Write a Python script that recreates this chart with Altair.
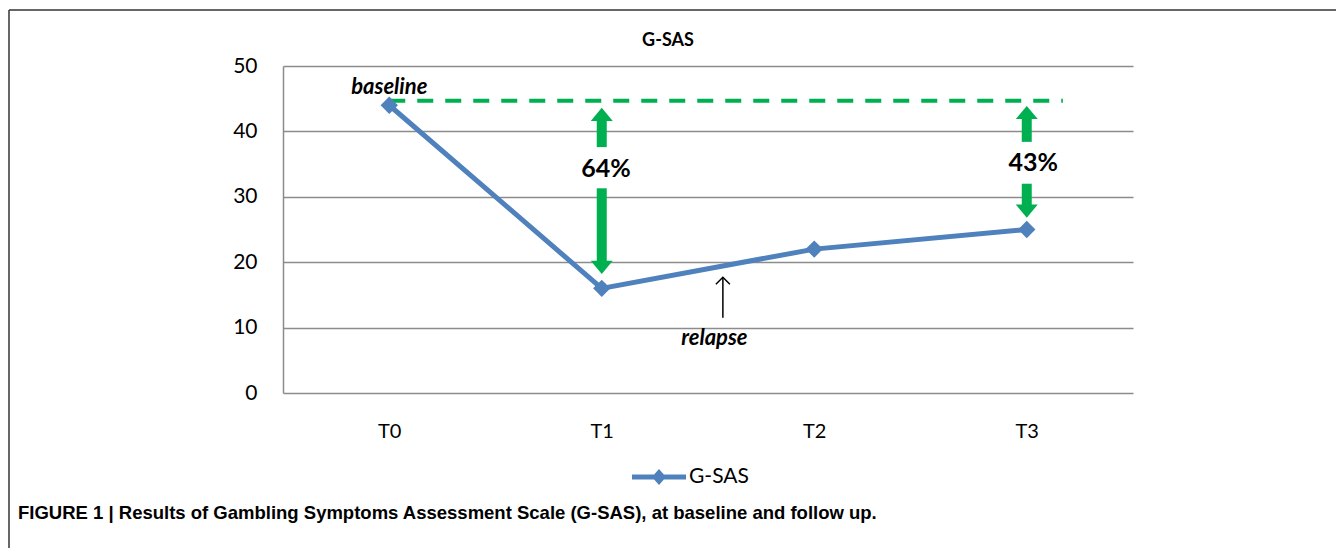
import altair as alt
import pandas as pd

# ---- data ----
times = ["T0", "T1", "T2", "T3"]
gsas = [44, 16, 22, 25]
series_name = "G-SAS"

baseline_value = 44.7
baseline_start = 0.0
baseline_end = 3.17

arrow_x = [1, 1, 3, 3]
arrow_tip = [43.6, 18.2, 43.9, 26.8]
arrow_tail = [37.6, 31.3, 38.4, 32.0]
arrow_dir = ["up", "down", "up", "down"]

pct_labels = ["64%", "43%"]
pct_x = [1.02, 3.03]
pct_y = [34.3, 35.2]

note_text = ["baseline", "relapse"]
note_x = [0.0, 1.53]
note_y = [46.8, 8.4]

relapse_x = [1.57]
relapse_tip = [17.7]
relapse_tail = [11.5]

caption = "FIGURE 1 | Results of Gambling Symptoms Assessment Scale (G-SAS), at baseline and follow up."

BLUE = "#4F81BD"
GREEN = "#00B050"
FONT = "Lato"

df = pd.DataFrame({"idx": list(range(len(times))), "time": times, "value": gsas, "series": series_name})
arrows = pd.DataFrame({"x": arrow_x, "tip": arrow_tip, "tail": arrow_tail, "dir": arrow_dir})
arrows["sign"] = arrows["dir"].map({"up": 1, "down": -1})
pct = pd.DataFrame({"x": pct_x, "y": pct_y, "t": pct_labels})
notes = pd.DataFrame({"x": note_x, "y": note_y, "t": note_text})
relapse = pd.DataFrame({"x": relapse_x, "tip": relapse_tip, "tail": relapse_tail})
base = pd.DataFrame({"x": [baseline_start], "x2": [baseline_end], "y": [baseline_value]})
one = pd.DataFrame({"t": [caption], "title": [series_name]})

label_expr = "[" + ",".join("'%s'" % t for t in times) + "][datum.value]"
xscale = alt.Scale(domain=[-0.5, len(times) - 0.5], nice=False, zero=False)
yscale = alt.Scale(domain=[0, 50], nice=False)

X = alt.X("idx:Q", scale=xscale, title=None,
          axis=alt.Axis(values=list(range(len(times))), labelExpr=label_expr, grid=False,
                        domain=False, ticks=False, tickSize=0, labelFontSize=20, labelFont=FONT,
                        labelColor="#000", labelPadding=28, labelFlush=False))
Y = alt.Y("value:Q", scale=yscale, title=None,
          axis=alt.Axis(values=[0, 10, 20, 30, 40, 50], grid=True, gridColor="#8c8c8c", gridWidth=1.5,
                        domain=True, domainColor="#8c8c8c", domainWidth=1.5, ticks=False, tickSize=0,
                        labelFontSize=21, labelFont=FONT, labelColor="#000", labelPadding=26))

line = alt.Chart(df).mark_line(color=BLUE, strokeWidth=5).encode(x=X, y=Y)

legend_symbol = ("M-1,-0.093L-0.18,-0.093L0,-0.3L0.18,-0.093L1,-0.093L1,0.093"
                 "L0.18,0.093L0,0.3L-0.18,0.093L-1,0.093Z")
points = alt.Chart(df).mark_point(shape="diamond", filled=True, size=300, opacity=1).encode(
    x="idx:Q", y="value:Q",
    color=alt.Color("series:N", scale=alt.Scale(domain=[series_name], range=[BLUE]), title=None,
                    legend=alt.Legend(orient="none", legendX=349, legendY=384, symbolType=legend_symbol,
                                      symbolSize=2916, symbolFillColor=BLUE, symbolStrokeWidth=0,
                                      labelFont=FONT, labelFontSize=21, labelColor="#000",
                                      labelOffset=3, padding=0, title=None)),
)

dash = alt.Chart(base).mark_rule(color=GREEN, strokeWidth=4, strokeDash=[16, 12]).encode(
    x="x:Q", x2="x2:Q", y="y:Q")

shafts = alt.Chart(arrows).transform_calculate(base="datum.tip - datum.sign*1.9").mark_rule(
    color=GREEN, strokeWidth=10, strokeCap="butt").encode(x="x:Q", y="base:Q", y2="tail:Q")

up_head = "M0,0L1,1.2L-1,1.2Z"
down_head = "M0,0L1,-1.2L-1,-1.2Z"
heads_up = alt.Chart(arrows).transform_filter("datum.dir == 'up'").mark_point(
    shape=up_head, filled=True, size=484, color=GREEN, opacity=1, strokeWidth=0).encode(x="x:Q", y="tip:Q")
heads_down = alt.Chart(arrows).transform_filter("datum.dir == 'down'").mark_point(
    shape=down_head, filled=True, size=484, color=GREEN, opacity=1, strokeWidth=0).encode(x="x:Q", y="tip:Q")

pct_text = alt.Chart(pct).mark_text(font=FONT, fontSize=25, fontWeight="bold", color="#000").encode(
    x="x:Q", y="y:Q", text="t:N")
note_txt = alt.Chart(notes).mark_text(font=FONT, fontSize=22, fontWeight="bold", fontStyle="italic",
                                      color="#000").encode(x="x:Q", y="y:Q", text="t:N")

rel_shaft = alt.Chart(relapse).mark_rule(color="#000", strokeWidth=1.5).encode(x="x:Q", y="tip:Q", y2="tail:Q")
rel_head = alt.Chart(relapse).mark_point(shape="M-1,1L0,0L1,1", size=196, filled=False, color="#000",
                                         strokeWidth=1.5, opacity=1).encode(x="x:Q", y="tip:Q")

frame_top = alt.Chart(one).mark_rule(color="#333", strokeWidth=1.5).encode(
    x=alt.value(-274), x2=alt.value(1053), y=alt.value(-56))
frame_left = alt.Chart(one).mark_rule(color="#333", strokeWidth=1.5).encode(
    x=alt.value(-274), y=alt.value(-56), y2=alt.value(482))
title_txt = alt.Chart(one).mark_text(align="center", baseline="middle", font=FONT, fontSize=18,
                                     fontWeight="bold", color="#000").encode(
    x=alt.value(385), y=alt.value(-25), text="title:N")
cap = alt.Chart(one).mark_text(align="left", baseline="middle", font="Liberation Sans",
                               fontSize=18.5, fontWeight="bold", color="#000").encode(
    x=alt.value(-265), y=alt.value(447), text="t:N")

chart = alt.layer(frame_top, frame_left, line, dash, shafts, heads_up, heads_down, points,
                  pct_text, note_txt, rel_shaft, rel_head, title_txt, cap).properties(
    width=850, height=327,
    autosize="none",
    padding={"left": 275, "top": 58, "right": 203, "bottom": 155},
).configure_view(strokeWidth=0)

chart.save("out.html", embed_options={"renderer": "svg", "actions": False})
